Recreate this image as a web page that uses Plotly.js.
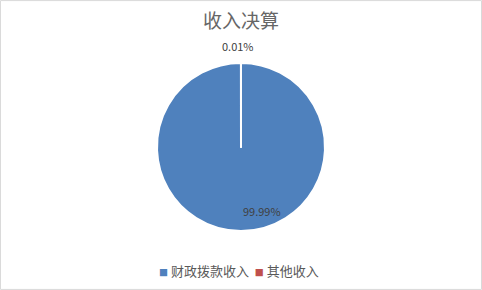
<!DOCTYPE html>
<html>
<head>
<meta charset="utf-8">
<script src="https://cdn.plot.ly/plotly-3.0.1.min.js"></script>
<style>html,body{margin:0;padding:0;background:#fff;}#chart{width:482px;height:290px;}</style>
</head>
<body>
<div id="chart"></div>
<script>
const categories = ['财政拨款收入', '其他收入'];
const values = [99.99, 0.01];
const colors = ['#4f81bd', '#c0504d'];

const font = '"Noto Sans CJK SC", "Noto Sans", sans-serif';
const W = 482, H = 290;

const total = values.reduce((a, b) => a + b, 0);
const pctText = values.map(v => (v / total * 100).toFixed(2) + '%');
// data-label anchor points (pixel, top-left origin) as placed in the reference
const labelPos = [[262, 211], [238, 46]];

const trace = {
  type: 'pie',
  labels: categories,
  values: values,
  sort: false,
  direction: 'clockwise',
  rotation: 0,
  marker: {colors: colors, line: {color: '#ffffff', width: 2}},
  textinfo: 'none',
  hoverinfo: 'label+percent',
  domain: {x: [0, 1], y: [0.2034, 0.7828]},
  automargin: false
};

const annotations = pctText.map((t, i) => ({
  xref: 'paper', yref: 'paper',
  x: labelPos[i][0] / W, y: 1 - labelPos[i][1] / H,
  xanchor: 'center', yanchor: 'middle',
  text: t, showarrow: false,
  font: {family: font, size: 11, color: '#404040'}
}));

const legendText = categories.map((c, i) =>
  '<span style="color:' + colors[i] + ';font-size:9px">■</span>&nbsp;' + c).join('&nbsp;&nbsp;');
annotations.push({
  xref: 'paper', yref: 'paper', x: 239 / W, y: 1 - 270 / H,
  xanchor: 'center', yanchor: 'middle', showarrow: false,
  text: legendText,
  font: {family: font, size: 13, color: '#595959'}
});

const layout = {
  width: W,
  height: H,
  margin: {l: 0, r: 0, t: 0, b: 0},
  paper_bgcolor: '#ffffff',
  title: {text: '收入决算', font: {family: font, size: 19, color: '#666666'}, x: 0.5, xanchor: 'center', y: 0.928, yanchor: 'middle'},
  showlegend: false,
  annotations: annotations,
  shapes: [{type: 'rect', xref: 'paper', yref: 'paper', x0: 0.001, x1: 0.999, y0: 0.002, y1: 0.998, line: {color: '#d9d9d9', width: 1}}]
};

Plotly.newPlot('chart', [trace], layout, {displayModeBar: false, staticPlot: true});
</script>
</body>
</html>
